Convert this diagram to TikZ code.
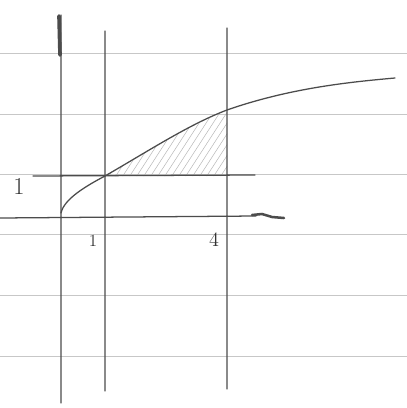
\documentclass[tikz,border=0pt]{standalone}
\usetikzlibrary{positioning}
\tikzset{pencil/.style={draw=black!70, line width=0.9pt, line cap=round},
         paper/.style={draw=black!22, line width=0.6pt},
         hatch/.style={draw=black!28, line width=0.35pt},
         mark label/.style={text=black!80, inner sep=0pt, font=\Large}}
\begin{document}
\begin{tikzpicture}[x=0.025cm, y=-0.025cm]
    \useasboundingbox[fill=white] (0,0) rectangle (407,408);
    % ruled paper
    \foreach \y in {53,114,174,234,295,356}
      \draw[paper] (0,\y) -- (407,\y);
    % shaded area between curve and 1
    \begin{scope}
      \clip (105,176) .. controls (150,150) and (190,125) .. (227,110)
            -- (227,176) -- cycle;
      \foreach \i in {0,7,...,210}
        \draw[hatch] (40+\i,185) -- (95+\i,100);
    \end{scope}
    % axes and guides
    \draw[pencil] (61,15) -- (61,403)
                  (0,218) -- (256,216)
                  (105,31) -- (105,391)
                  (227,28) -- (227,389)
                  (33,176) -- (255,175);
    \draw[pencil, line width=2.6pt] (59,16) -- (60,55);
    \draw[pencil, line width=1.8pt] (252,215) -- (262,214) -- (272,217) -- (284,218);
    % curve
    \draw[pencil] (61,213) .. controls (64,199) and (86,186) .. (105,176)
                  .. controls (150,150) and (190,124) .. (227,110)
                  .. controls (290,88) and (350,82) .. (395,78);
    \node[mark label, font=\LARGE] (yone) at (19,186) {1};
    \node[mark label, font=\large] (xone) at (93,241) {1};
    \node[mark label] (xfour) at (214,240) {4};
  \end{tikzpicture}
\end{document}
